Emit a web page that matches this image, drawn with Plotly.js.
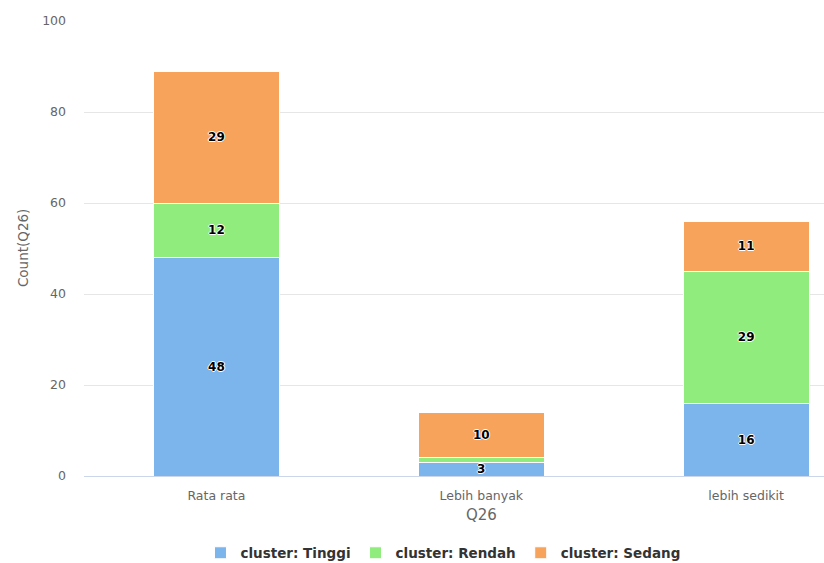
<!DOCTYPE html>
<html>
<head>
<meta charset="utf-8">
<script src="https://cdn.plot.ly/plotly-3.0.1.min.js"></script>
<style>
  html, body { margin: 0; padding: 0; background: #fff; }
  #chart { width: 824px; height: 563px; }
</style>
</head>
<body>
<div id="chart"></div>
<script>
// Answers to Q26, split by cluster
const categories = ['Rata rata', 'Lebih banyak', 'lebih sedikit'];
const tinggi = [48, 3, 16];
const rendah = [12, 1, 29];
const sedang = [29, 10, 11];

const seriesNames = ['cluster: Tinggi', 'cluster: Rendah', 'cluster: Sedang'];
const seriesColors = ['#7cb5ec', '#90ed7d', '#f7a35c'];
const seriesValues = [tinggi, rendah, sedang];

const FONT = 'DejaVu Sans, Verdana, sans-serif';

// segments too thin to hold a label get none
function labelPositions(vals) {
  return vals.map(v => (v >= 2 ? 'inside' : 'none'));
}

const traces = seriesValues.map((vals, i) => ({
  type: 'bar',
  name: seriesNames[i],
  x: categories,
  y: vals,
  text: vals.map(String),
  textposition: labelPositions(vals),
  insidetextanchor: 'middle',
  constraintext: 'none',
  textangle: 0,
  textfont: {
    family: FONT,
    size: 12,
    color: '#000000',
    weight: 'bold',
    shadow: '1px 0 0 #fff, -1px 0 0 #fff, 0 1px 0 #fff, 0 -1px 0 #fff'
  },
  marker: { color: seriesColors[i], line: { color: '#ffffff', width: 1 } },
  hoverinfo: 'x+y+name'
}));

const layout = {
  width: 824,
  height: 563,
  margin: { l: 83.5, r: 0, t: 21, b: 87, autoexpand: false },
  paper_bgcolor: '#ffffff',
  plot_bgcolor: '#ffffff',
  barmode: 'stack',
  bargap: 0.5245,
  showlegend: true,
  font: { family: FONT, color: '#666666', size: 12 },
  xaxis: {
    type: 'category',
    range: [-0.5, 2.294],
    showgrid: false,
    showline: true,
    linecolor: '#ccd6eb',
    linewidth: 1,
    ticks: '',
    ticklabelstandoff: 8,
    tickfont: { family: FONT, size: 12.5, color: '#666666' },
    zeroline: false,
    fixedrange: true,
    automargin: false
  },
  yaxis: {
    range: [0, 100],
    dtick: 20,
    showgrid: true,
    gridcolor: '#e6e6e6',
    gridwidth: 1,
    zeroline: false,
    showline: false,
    ticks: '',
    ticklabelstandoff: 17,
    tickfont: { family: FONT, size: 12.5, color: '#666666' },
    fixedrange: true,
    automargin: false
  },
  legend: {
    orientation: 'h',
    xref: 'container',
    yref: 'container',
    x: 0.5376,
    xanchor: 'center',
    y: 0.0178,
    yanchor: 'middle',
    font: { family: FONT, size: 13.5, color: '#333333', weight: 'bold' },
    itemclick: false,
    itemdoubleclick: false,
    traceorder: 'normal'
  },
  annotations: [
    {
      text: 'Q26',
      xref: 'x', yref: 'paper',
      x: 1, y: -0.0857,
      xanchor: 'center', yanchor: 'middle',
      showarrow: false,
      font: { family: FONT, size: 15, color: '#666666' }
    },
    {
      text: 'Count(Q26)',
      xref: 'paper', yref: 'paper',
      x: -0.083, y: 0.5,
      xanchor: 'center', yanchor: 'middle',
      textangle: -90,
      showarrow: false,
      font: { family: FONT, size: 13.5, color: '#666666' }
    }
  ]
};

Plotly.newPlot('chart', traces, layout, { displayModeBar: false });
</script>
</body>
</html>
